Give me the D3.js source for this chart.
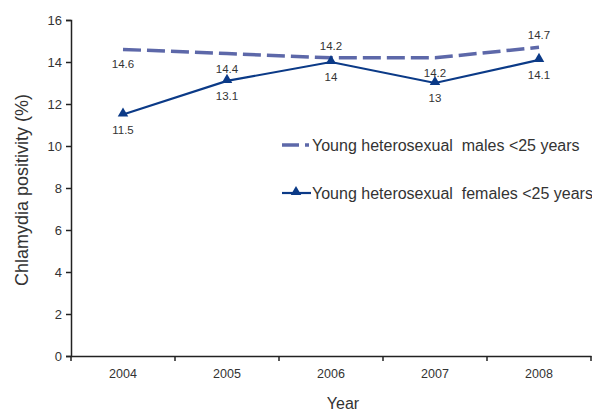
<!DOCTYPE html>
<html>
<head>
<meta charset="utf-8">
<script src="https://cdn.jsdelivr.net/npm/d3@7"></script>
<style>
  body { margin: 0; background: #fff; overflow: hidden; }
  svg { font-family: "Liberation Sans", Arial, sans-serif; display: block; }
</style>
</head>
<body>
<div id="chart"></div>
<script>
let years = ["2004", "2005", "2006", "2007", "2008"];
let maleValues = [14.6, 14.4, 14.2, 14.2, 14.7];
let femaleValues = [11.5, 13.1, 14, 13, 14.1];
let maleLabelSide = ["below", "below", "above", "below", "above"];
let femaleLabelSide = ["below", "below", "below", "below", "below"];
let yTicks = [0, 2, 4, 6, 8, 10, 12, 14, 16];

let margin = {top: 20, right: 1, bottom: 58, left: 71},
    width = 592 - margin.left - margin.right,
    height = 414 - margin.top - margin.bottom;

let maleColor = "#5d68a9",
    femaleColor = "#0b3a87",
    textColor = "#333";

let svg = d3.select("#chart")
    .append("svg")
    .attr("width", width + margin.left + margin.right)
    .attr("height", height + margin.top + margin.bottom);

let g = svg.append("g")
    .attr("transform", "translate(" + margin.left + "," + margin.top + ")");

let x = d3.scaleBand()
    .domain(years)
    .range([0, width]);

let y = d3.scaleLinear()
    .domain([0, 16])
    .range([height, 0]);

let cx = d => x(d) + x.bandwidth() / 2;

// axes
let yAxis = g.append("g")
    .call(d3.axisLeft(y).tickValues(yTicks).tickSize(5).tickPadding(4));

let xAxis = g.append("g")
    .attr("transform", "translate(0," + height + ")")
    .call(d3.axisBottom(x).tickSize(0).tickPadding(13));

// ticks between bands, like excel
xAxis.selectAll(".sep")
    .data(d3.range(years.length + 1))
    .enter()
    .append("line")
    .attr("x1", i => i * x.step())
    .attr("x2", i => i * x.step())
    .attr("y1", 0)
    .attr("y2", 5)
    .attr("stroke", "#222")
    .attr("stroke-width", 1.5);

[yAxis, xAxis].forEach(a => {
    a.select(".domain").attr("stroke", "#222").attr("stroke-width", 1.5);
    a.selectAll(".tick line").attr("stroke", "#222").attr("stroke-width", 1.5);
    a.selectAll("text").attr("fill", textColor).style("font-size", "12.5px");
});
yAxis.selectAll("text").style("font-size", "13px");

// lines
let line = d3.line()
    .x((d, i) => cx(years[i]))
    .y(d => y(d));

g.append("path")
    .datum(maleValues)
    .attr("d", line)
    .attr("fill", "none")
    .attr("stroke", maleColor)
    .attr("stroke-width", 3.5)
    .attr("stroke-dasharray", "18,6");

g.append("path")
    .datum(femaleValues)
    .attr("d", line)
    .attr("fill", "none")
    .attr("stroke", femaleColor)
    .attr("stroke-width", 2.2);

let tri = d3.symbol().type(d3.symbolTriangle).size(48);

g.selectAll(".marker")
    .data(femaleValues)
    .enter()
    .append("path")
    .attr("class", "marker")
    .attr("d", tri)
    .attr("transform", (d, i) => "translate(" + cx(years[i]) + "," + (y(d) - 1) + ")")
    .attr("fill", femaleColor);

// data labels
function addLabels(values, sides) {
    g.selectAll(null)
        .data(values)
        .enter()
        .append("text")
        .attr("x", (d, i) => cx(years[i]))
        .attr("y", (d, i) => y(d) + (sides[i] === "above" ? -8 : 19))
        .attr("text-anchor", "middle")
        .attr("fill", textColor)
        .style("font-size", "11.5px")
        .text(d => d);
}
addLabels(maleValues, maleLabelSide);
addLabels(femaleValues, femaleLabelSide);

// legend
let legend = svg.append("g").attr("transform", "translate(282,145)");

legend.append("line")
    .attr("x1", 0).attr("x2", 17).attr("y1", 0).attr("y2", 0)
    .attr("stroke", maleColor).attr("stroke-width", 3.5);
legend.append("line")
    .attr("x1", 23).attr("x2", 27).attr("y1", 0).attr("y2", 0)
    .attr("stroke", maleColor).attr("stroke-width", 3.5);
legend.append("text")
    .attr("x", 30).attr("y", 6)
    .attr("fill", textColor)
    .style("font-size", "16px")
    .style("white-space", "pre")
    .text("Young heterosexual  males <25 years");

let leg2 = legend.append("g").attr("transform", "translate(0,48)");
leg2.append("line")
    .attr("x1", 0).attr("x2", 29).attr("y1", 0).attr("y2", 0)
    .attr("stroke", femaleColor).attr("stroke-width", 2.2);
leg2.append("path")
    .attr("d", tri)
    .attr("transform", "translate(14,-1)")
    .attr("fill", femaleColor);
leg2.append("text")
    .attr("x", 30).attr("y", 6)
    .attr("fill", textColor)
    .style("font-size", "16px")
    .style("white-space", "pre")
    .text("Young heterosexual  females <25 years");

// axis titles
svg.append("text")
    .attr("transform", "translate(28,190) rotate(-90)")
    .attr("text-anchor", "middle")
    .attr("fill", textColor)
    .style("font-size", "18px")
    .text("Chlamydia positivity (%)");

svg.append("text")
    .attr("x", 343)
    .attr("y", 409)
    .attr("text-anchor", "middle")
    .attr("fill", textColor)
    .style("font-size", "16px")
    .text("Year");
</script>
</body>
</html>
